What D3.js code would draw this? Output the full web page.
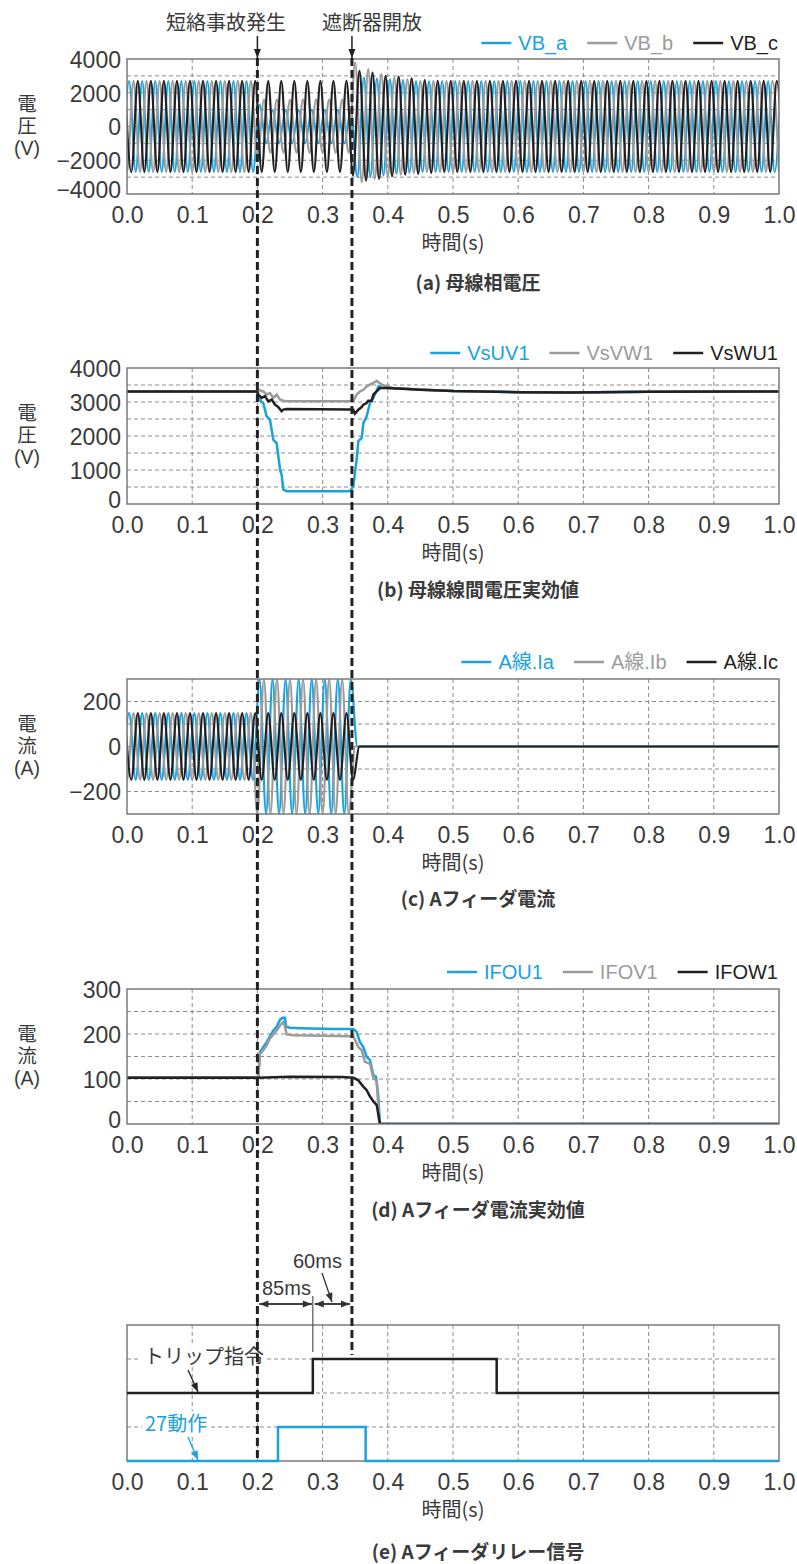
<!DOCTYPE html>
<html><head><meta charset="utf-8">
<script src="https://cdn.jsdelivr.net/npm/d3@7"></script>
<style>body{margin:0;background:#fff}svg{display:block}</style>
</head><body><svg id="c" width="797" height="1564"></svg>
<script>
// ---------------- DATA ----------------
const timeTicks = [0,0.1,0.2,0.3,0.4,0.5,0.6,0.7,0.8,0.9,1.0];
const timeTickLabels = ["0.0","0.1","0.2","0.3","0.4","0.5","0.6","0.7","0.8","0.9","1.0"];
const voltTicksA = [-4000,-2000,0,2000,4000];
const voltTicksB = [0,1000,2000,3000,4000];
const currTicksC = [-200,0,200];
const currTicksD = [0,100,200,300];

const faultTime = 0.2;      // 短絡事故発生
const breakerTime = 0.345;  // 遮断器開放

const legendA = ["VB_a","VB_b","VB_c"];
const legendB = ["VsUV1","VsVW1","VsWU1"];
const legendC = ["A線.Ia","A線.Ib","A線.Ic"];
const legendD = ["IFOU1","IFOV1","IFOW1"];

// (a)/(c) waveforms: successive half-cycle extrema (50 Hz -> every 0.01 s)
const halfCycle = 0.01;
const firstPeakA = -0.0067, firstPeakB = -0.01, firstPeakC = -0.0034;

const vbA = [
 -2700,2700,-2700,2700,-2700,2700,-2700,2700,-2700,2700,
 -2700,2700,-2700,2700,-2700,2700,-2700,2700,-2700,2700,
 -2700,
 1300,
 -1000,980,-1000,990,-1000,980,-990,1000,-990,980,-1000,990,-1000,
 1000,
 -3000,2900,-3000,2850,-2900,2800,-2800,2750,-2750,
 2700,-2700,2700,-2700,2700,-2700,2700,-2700,2700,-2700,
 2700,-2700,2700,-2700,2700,-2700,2700,-2700,2700,-2700,
 2700,-2700,2700,-2700,2700,-2700,2700,-2700,2700,-2700,
 2700,-2700,2700,-2700,2700,-2700,2700,-2700,2700,-2700,
 2700,-2700,2700,-2700,2700,-2700,2700,-2700,2700,-2700,
 2700,-2700,2700,-2700,2700,-2700,2700
];
const vbB = [
 2700,-2700,2700,-2700,2700,-2700,2700,-2700,2700,-2700,
 2700,-2700,2700,-2700,2700,-2700,2700,-2700,2700,-2700,
 2700,
 -2000,
 1600,-1550,1600,-1550,1580,-1550,1600,-1560,1600,-1550,1590,-1550,1600,
 -1550,
 3800,-3300,3400,-3100,3100,-2950,2900,-2850,2800,-2750,
 2700,-2700,2700,-2700,2700,-2700,2700,-2700,2700,-2700,
 2700,-2700,2700,-2700,2700,-2700,2700,-2700,2700,-2700,
 2700,-2700,2700,-2700,2700,-2700,2700,-2700,2700,-2700,
 2700,-2700,2700,-2700,2700,-2700,2700,-2700,2700,-2700,
 2700,-2700,2700,-2700,2700,-2700,2700,-2700,2700,-2700,
 2700,-2700,2700,-2700,2700,-2700
];
const vbC = [
 2700,-2700,2700,-2700,2700,-2700,2700,-2700,2700,-2700,
 2700,-2700,2700,-2700,2700,-2700,2700,-2700,2700,-2700,
 2700,-2700,2700,-2700,2700,-2700,2700,-2700,2700,-2700,
 2700,-2700,2700,-2700,2700,
 -2900,3300,-3200,3200,-3100,3000,-2950,2950,-2850,2850,-2800,2750,-2750,
 2700,-2700,2700,-2700,2700,-2700,2700,-2700,2700,-2700,
 2700,-2700,2700,-2700,2700,-2700,2700,-2700,2700,-2700,
 2700,-2700,2700,-2700,2700,-2700,2700,-2700,2700,-2700,
 2700,-2700,2700,-2700,2700,-2700,2700,-2700,2700,-2700,
 2700,-2700,2700,-2700,2700,-2700,2700,-2700,2700,-2700,
 2700,-2700,2700,-2700
];

const iA = [
 -148,148,-148,148,-148,148,-148,148,-148,148,
 -148,148,-148,148,-148,148,-148,148,-148,148,
 -148,
 300,-300,300,-300,300,-300,300,-300,300,-300,300,-300,300,-300,300,
 0
];
const iB = [
 148,-148,148,-148,148,-148,148,-148,148,-148,
 148,-148,148,-148,148,-148,148,-148,148,-148,
 148,
 -300,300,-300,300,-300,300,-300,300,-300,300,-300,300,-300,300,-300,
 0
];
const iC = [
 148,-148,148,-148,148,-148,148,-148,148,-148,
 148,-148,148,-148,148,-148,148,-148,148,-148,
 148,-148,148,-148,148,-148,148,-148,148,-148,
 148,-148,148,-148,148,-148,
 0
];

// (b) line-to-line RMS voltage [time s, V]
const vsUV1 = [[0,3310],[0.2,3310],[0.2014,3120],[0.2065,3000],[0.209,2970],[0.2142,2580],[0.2193,2480],[0.2244,1890],[0.2295,1790],[0.2347,1010],[0.2372,860],[0.2398,420],[0.2449,375],[0.342,375],[0.3471,520],[0.3522,1300],[0.3548,1850],[0.3599,1940],[0.3625,2380],[0.3676,2580],[0.3727,2970],[0.3779,3120],[0.3855,3460],[0.39,3420],[0.42,3400],[0.45,3360],[0.5,3320],[0.6,3290],[0.68,3280],[0.8,3300],[0.9,3310],[1.0,3310]];
const vsVW1 = [[0,3310],[0.2,3310],[0.2014,3360],[0.209,3310],[0.2142,3220],[0.2193,3260],[0.2244,3120],[0.2295,3220],[0.2347,3070],[0.2398,3040],[0.245,3020],[0.342,3020],[0.3471,3020],[0.3522,3220],[0.3573,3310],[0.3625,3360],[0.3676,3460],[0.3727,3510],[0.3779,3560],[0.383,3625],[0.3855,3580],[0.391,3510],[0.399,3460],[0.407,3410],[0.45,3370],[0.5,3320],[0.6,3290],[0.68,3280],[0.8,3300],[1.0,3310]];
const vsWU1 = [[0,3310],[0.2,3310],[0.2014,3220],[0.2065,3120],[0.2116,3170],[0.2168,3020],[0.2219,3070],[0.227,2920],[0.2321,2850],[0.2372,2730],[0.2398,2775],[0.2449,2795],[0.342,2780],[0.3471,2775],[0.3496,2660],[0.3548,2775],[0.3599,2850],[0.3625,2920],[0.3676,2970],[0.3701,3040],[0.3753,3040],[0.3779,3220],[0.383,3310],[0.388,3410],[0.40,3410],[0.45,3360],[0.5,3320],[0.6,3290],[0.68,3280],[0.8,3300],[1.0,3310]];

// (d) feeder RMS current [time s, A]
const ifoU1 = [[0,103],[0.2,104],[0.2014,105],[0.204,160],[0.209,171],[0.2142,182],[0.2193,195],[0.2244,208],[0.2295,216],[0.2347,232],[0.2387,236],[0.2423,236],[0.2439,216],[0.25,214],[0.2653,213],[0.3165,211],[0.3471,211],[0.3522,205],[0.3573,182],[0.3625,171],[0.3676,149],[0.3727,142],[0.3779,109],[0.3819,105],[0.3855,61],[0.388,0],[1.0,0]];
const ifoV1 = [[0,103],[0.2,104],[0.2014,105],[0.204,156],[0.209,164],[0.2142,175],[0.2193,190],[0.2244,199],[0.2295,208],[0.2347,219],[0.2398,227],[0.2423,216],[0.2449,199],[0.2551,197],[0.342,195],[0.3471,195],[0.3548,171],[0.3599,164],[0.365,138],[0.3727,134],[0.3779,101],[0.383,97],[0.387,0],[1.0,0]];
const ifoW1 = [[0,103],[0.2,103],[0.25,105],[0.33,104.5],[0.3471,103],[0.3548,97],[0.3625,83],[0.3676,75],[0.3727,61],[0.3779,50],[0.383,42],[0.388,0],[1.0,0]];

// (e) relay signals (0 = off, 1 = on) [time s, state]
const tripSignal = [[0,0],[0.285,1],[0.567,0],[1.0,0]];
const relay27 = [[0,0],[0.2316,1],[0.366,0],[1.0,0]];
const tripDelayLabel = "85ms", breakerDelayLabel = "60ms";

// ---------------- DRAWING ----------------
const svg = d3.select("#c");
const L = 127, R = 779;
const x = d3.scaleLinear().domain([0,1]).range([L,R]);
const COL = {blue:"#19a2de", gray:"#9b9b9b", black:"#231f20", text:"#3a3a3a", grid:"#8c8c8c", frame:"#7a7a7a"};
const latin = "'Liberation Sans', Arial, Helvetica, sans-serif";
const jp = "'Noto Sans CJK JP', 'Noto Sans CJK SC', sans-serif";
const compactJp = "'Liberation Sans', 'Noto Sans CJK JP', sans-serif";
const series3 = [COL.blue, COL.gray, COL.black];
const TICK_FS = 23, TICK_BOX = TICK_FS*1.117 + 0.6;
const defs = svg.append("defs");
svg.append("rect").attr("width",797).attr("height",1564).attr("fill","#fff");

function panel(cfg){
  const y = d3.scaleLinear().domain(cfg.domain).range([cfg.bottom, cfg.top]);
  const id = "clip-"+cfg.key;
  defs.append("clipPath").attr("id",id).append("rect")
    .attr("x",L).attr("y",cfg.top).attr("width",R-L).attr("height",cfg.bottom-cfg.top);
  const g = svg.append("g");
  g.append("g").selectAll("line").data(timeTicks.slice(1,-1)).join("line")
    .attr("x1",d=>x(d)).attr("x2",d=>x(d)).attr("y1",cfg.top).attr("y2",cfg.bottom)
    .attr("stroke",COL.grid).attr("stroke-width",1).attr("stroke-dasharray","4,3");
  g.append("g").selectAll("line").data(d3.range(cfg.domain[0]+cfg.step, cfg.domain[1]-cfg.step/2, cfg.step)).join("line")
    .attr("x1",L).attr("x2",R).attr("y1",d=>y(d)).attr("y2",d=>y(d))
    .attr("stroke",COL.grid).attr("stroke-width",1).attr("stroke-dasharray","4,3");
  const plot = g.append("g").attr("clip-path",`url(#${id})`);
  const xLabelCenter = cfg.bottom + 21;
  const xa = g.append("g").attr("transform",`translate(0,${cfg.bottom})`)
    .call(d3.axisBottom(x).tickValues(timeTicks).tickFormat((d,i)=>timeTickLabels[i]).tickSize(0).tickPadding(0));
  xa.select(".domain").remove();
  xa.selectAll("text").attr("font-family",latin).attr("font-size",TICK_FS).attr("fill",COL.text)
    .attr("y",21).attr("dy","0.36em");
  if (cfg.ticks){
    const ya = g.append("g").attr("transform",`translate(${L},0)`)
      .call(d3.axisLeft(y).tickValues(cfg.ticks).tickFormat(d3.format("d")).tickSize(0).tickPadding(6));
    ya.select(".domain").remove();
    ya.selectAll("text").attr("font-family",latin).attr("font-size",TICK_FS).attr("fill",COL.text).attr("dy","0.36em");
    // keep the lowest value label clear of the time labels below it
    ya.selectAll(".tick").each(function(d){
      const cy = y(d), maxC = xLabelCenter - TICK_BOX;
      if (cy > maxC) d3.select(this).select("text").attr("y", maxC - cy);
    });
  }
  g.append("text").attr("x",453).attr("y",cfg.bottom+49).attr("dy","0.35em").attr("text-anchor","middle")
    .attr("font-family",jp).attr("font-size",20).attr("fill",COL.text).text("時間(s)");
  g.append("text").attr("x",478).attr("y",cfg.captionY).attr("dy","0.35em").attr("text-anchor","middle")
    .attr("font-family",jp).attr("font-size",19).attr("font-weight","bold").attr("fill",COL.text).text(cfg.caption);
  if (cfg.ylabel){
    const mid = (cfg.top+cfg.bottom)/2;
    cfg.ylabel.forEach((s,i)=>{
      g.append("text").attr("x",27).attr("y",mid-23+i*22).attr("dy","0.36em").attr("text-anchor","middle")
        .attr("font-family",compactJp).attr("font-size",19.5).attr("fill",COL.text).text(s);
    });
  }
  const frame = ()=> g.append("rect").attr("x",L).attr("y",cfg.top).attr("width",R-L).attr("height",cfg.bottom-cfg.top)
      .attr("fill","none").attr("stroke",COL.frame).attr("stroke-width",1.5);
  return {y, plot, frame, cfg};
}

function legend(labels, yc){
  let xEnd = 778;
  for (let i=labels.length-1;i>=0;i--){
    const t = svg.append("text").attr("x",xEnd).attr("y",yc).attr("dy","0.35em").attr("text-anchor","end")
      .attr("font-family",latin+", "+jp).attr("font-size",20).attr("fill",series3[i]).text(labels[i]);
    const w = t.node().getComputedTextLength();
    const ts = xEnd - w;
    svg.append("line").attr("x1",ts-37).attr("x2",ts-7).attr("y1",yc).attr("y2",yc)
      .attr("stroke",series3[i]).attr("stroke-width",2.5);
    xEnd = ts - 57;
  }
}

function arrow(x1,y1,x2,y2,color,w){
  svg.append("line").attr("x1",x1).attr("y1",y1).attr("x2",x2).attr("y2",y2)
    .attr("stroke",color).attr("stroke-width",w||1.3);
  const a = Math.atan2(y2-y1,x2-x1), len=9, hw=3.5;
  const bx = x2-len*Math.cos(a), by = y2-len*Math.sin(a);
  const px = -Math.sin(a)*hw, py = Math.cos(a)*hw;
  svg.append("path").attr("d",`M${x2},${y2}L${bx+px},${by+py}L${bx-px},${by-py}Z`).attr("fill",color);
}

const peakPts = (vals, first) => vals.map((v,k)=>[first + k*halfCycle, v]);

// ---- (a) ----
const pa = panel({key:"a",top:59,bottom:194,domain:[-4000,4000],step:1000,ticks:voltTicksA,
  caption:"(a) 母線相電圧",captionY:283,ylabel:["電","圧","(V)"]});
const lineA = d3.line().x(d=>x(d[0])).y(d=>pa.y(d[1])).curve(d3.curveMonotoneX);
[[vbA,firstPeakA],[vbB,firstPeakB],[vbC,firstPeakC]].forEach(([v,f],i)=>{
  pa.plot.append("path").attr("d",lineA(peakPts(v,f))).attr("fill","none")
    .attr("stroke",series3[i]).attr("stroke-width",i===0?2:2.2);
});
pa.frame();
legend(legendA, 43);

// ---- (b) ----
const pb = panel({key:"b",top:368,bottom:504,domain:[0,4000],step:500,ticks:voltTicksB,
  caption:"(b) 母線線間電圧実効値",captionY:590,ylabel:["電","圧","(V)"]});
const lineB = d3.line().x(d=>x(d[0])).y(d=>pb.y(d[1]));
[vsUV1,vsVW1,vsWU1].forEach((s,i)=>{
  pb.plot.append("path").attr("d",lineB(s)).attr("fill","none").attr("stroke",series3[i]).attr("stroke-width",2.5);
});
pb.frame();
legend(legendB, 353);

// ---- (c) ----
const pc = panel({key:"c",top:679,bottom:814,domain:[-300,300],step:100,ticks:currTicksC,
  caption:"(c) Aフィーダ電流",captionY:899,ylabel:["電","流","(A)"]});
const lineC = d3.line().x(d=>x(d[0])).y(d=>pc.y(d[1])).curve(d3.curveMonotoneX);
[[iA,firstPeakA],[iB,firstPeakB],[iC,firstPeakC]].forEach(([v,f],i)=>{
  const pts = peakPts(v,f).concat([[1.0,0]]);
  pc.plot.append("path").attr("d",lineC(pts)).attr("fill","none")
    .attr("stroke",series3[i]).attr("stroke-width",2.2);
});
pc.frame();
legend(legendC, 662);

// ---- (d) ----
const pd = panel({key:"d",top:989,bottom:1124,domain:[0,300],step:50,ticks:currTicksD,
  caption:"(d) Aフィーダ電流実効値",captionY:1210,ylabel:["電","流","(A)"]});
const lineD = d3.line().x(d=>x(d[0])).y(d=>pd.y(d[1]));
[ifoU1,ifoV1,ifoW1].forEach((s,i)=>{
  pd.plot.append("path").attr("d",lineD(s)).attr("fill","none").attr("stroke",series3[i]).attr("stroke-width",2.5);
});
pd.frame();
legend(legendD, 972);

// ---- (e) ----
const pe = panel({key:"e",top:1325,bottom:1461,domain:[0,4],step:1,ticks:null,
  caption:"(e) Aフィーダリレー信号",captionY:1552,ylabel:null});
function labelBox(txt, x0, yc, color){
  const t = svg.append("text").attr("x",x0).attr("y",yc).attr("dy","0.35em")
    .attr("font-family",jp).attr("font-size",20).attr("fill",color).text(txt);
  const b = t.node().getBBox();
  svg.insert("rect", ()=>t.node()).attr("x",b.x-3).attr("y",b.y+3).attr("width",b.width+6).attr("height",b.height-6).attr("fill","#fff");
}
labelBox("トリップ指令", 144, pe.y(3)-2, COL.text);
labelBox("27動作", 145, pe.y(1)-3, COL.blue);
const stepE = (base)=> d3.line().x(d=>x(d[0])).y(d=>pe.y(base+d[1])).curve(d3.curveStepAfter);
svg.append("path").attr("d",stepE(2)(tripSignal)).attr("fill","none").attr("stroke",COL.black).attr("stroke-width",2.5);
svg.append("path").attr("d",stepE(0)(relay27)).attr("fill","none").attr("stroke",COL.blue).attr("stroke-width",2.5);
pe.frame();
arrow(188, pe.y(3)+11, 198, pe.y(2)-1, COL.black, 1.3);
arrow(188, pe.y(1)+10, 198, pe.y(0)-1, COL.blue, 1.3);

// dimension annotation 85ms / 60ms
const xTrip = x(tripSignal[1][0]), xF = x(faultTime), xB = x(breakerTime);
const dimY = 1304;
svg.append("line").attr("x1",xTrip).attr("x2",xTrip).attr("y1",1296).attr("y2",1352).attr("stroke","#555").attr("stroke-width",1.2);
arrow(xTrip-1, dimY, xF+2, dimY, "#333", 1.3);
arrow(xF+2, dimY, xTrip-1, dimY, "#333", 1.3);
arrow(xB-2, dimY, xTrip+2, dimY, "#333", 1.3);
arrow(xTrip+2, dimY, xB-2, dimY, "#333", 1.3);
svg.append("text").attr("x",262).attr("y",1288).attr("dy","0.35em").attr("font-family",latin)
  .attr("font-size",20).attr("fill",COL.text).text(tripDelayLabel);
svg.append("text").attr("x",293).attr("y",1261).attr("dy","0.35em").attr("font-family",latin)
  .attr("font-size",20).attr("fill",COL.text).text(breakerDelayLabel);
arrow(322, 1273, 332, 1302, "#333", 1.3);

// event markers (top)
svg.append("text").attr("x",226).attr("y",23).attr("dy","0.35em").attr("text-anchor","middle")
  .attr("font-family",jp).attr("font-size",20).attr("fill",COL.text).text("短絡事故発生");
svg.append("text").attr("x",372).attr("y",23).attr("dy","0.35em").attr("text-anchor","middle")
  .attr("font-family",jp).attr("font-size",20).attr("fill",COL.text).text("遮断器開放");
arrow(xF, 36, xF, 58, COL.black, 1.5);
arrow(xB, 36, xB, 58, COL.black, 1.5);
svg.append("line").attr("x1",xF).attr("x2",xF).attr("y1",58).attr("y2",1461)
  .attr("stroke","#222").attr("stroke-width",3).attr("stroke-dasharray","8,4");
svg.append("line").attr("x1",xB).attr("x2",xB).attr("y1",58).attr("y2",pe.y(3)-4)
  .attr("stroke","#222").attr("stroke-width",3).attr("stroke-dasharray","8,4");
</script></body></html>
